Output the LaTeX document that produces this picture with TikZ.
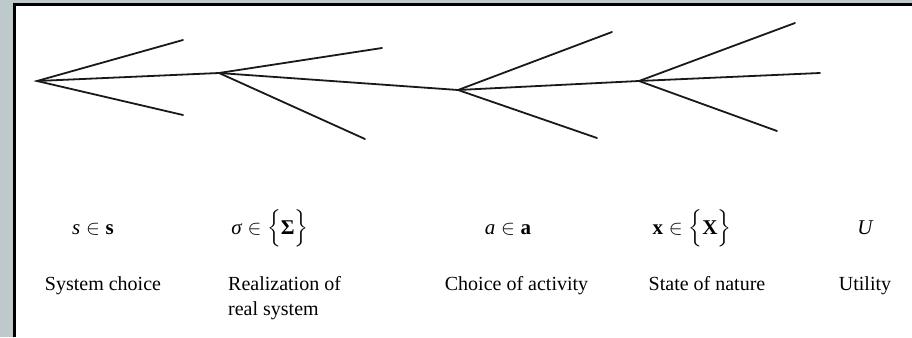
\documentclass[tikz,border=0pt]{standalone}
\usepackage{amsmath}
\usepackage{fontspec}
\setmainfont{Liberation Serif}
\newcommand{\tb}[1]{\mbox{\bfseries #1}}
\newcommand{\ti}[1]{\mbox{\itshape #1}}
\begin{document}
\begin{tikzpicture}[x=1pt,y=-1pt,
  branch/.style={line width=1.8pt,line cap=round,black!90},
  lbl/.style={font=\fontsize{20}{25}\selectfont,inner sep=0pt,anchor=base},
  mth/.style={font=\fontsize{21}{25}\selectfont,inner sep=0pt,anchor=base}]
\definecolor{bgframe}{RGB}{190,201,204}
\useasboundingbox (0,0) rectangle (912,337);
\fill[bgframe] (0,0) rectangle (912,337);
\fill[white] (14,4) rectangle (912,337);
\draw[line width=3pt] (14.5,337) -- (14.5,4.5) -- (912,4.5);
% branch points
\coordinate (A) at (37,81);
\coordinate (B) at (219,73);
\coordinate (C) at (458,90);
\coordinate (D) at (639,81);
% free ends
\coordinate (A1) at (183,40);
\coordinate (A2) at (183,115);
\coordinate (B1) at (382,48);
\coordinate (B2) at (365,139);
\coordinate (C1) at (612,32);
\coordinate (C2) at (597,138);
\coordinate (D1) at (795,23);
\coordinate (D2) at (820,73);
\coordinate (D3) at (777,131);
\draw[branch] (A1) -- (A) -- (A2);
\draw[branch] (A) -- (B) -- (C) -- (D) -- (D2);
\draw[branch] (B1) -- (B) -- (B2);
\draw[branch] (C1) -- (C) -- (C2);
\draw[branch] (D1) -- (D) -- (D3);
% math labels
\node[mth] (m1) at (93,234) {$\ti{s}\in\tb{s}$};
\node[mth] (m2) at (270,234) {$\ti{σ}\in\Bigl\{\tb{Σ}\Bigr\}$};
\node[mth] (m3) at (508,234) {$\ti{a}\in\tb{a}$};
\node[mth] (m4) at (692,234) {$\tb{x}\in\Bigl\{\tb{X}\Bigr\}$};
\node[mth] (m5) at (865,234) {\ti{U}};
% text labels
\node[lbl] (t1) at (103,290) {System choice};
\node[lbl,anchor=base west,align=left] (t2) at (228,315) {Realization of\\real system};
\node[lbl] (t3) at (516.5,290) {Choice of activity};
\node[lbl] (t4) at (707,290) {State of nature};
\node[lbl] (t5) at (865,290) {Utility};
\end{tikzpicture}
\end{document}
